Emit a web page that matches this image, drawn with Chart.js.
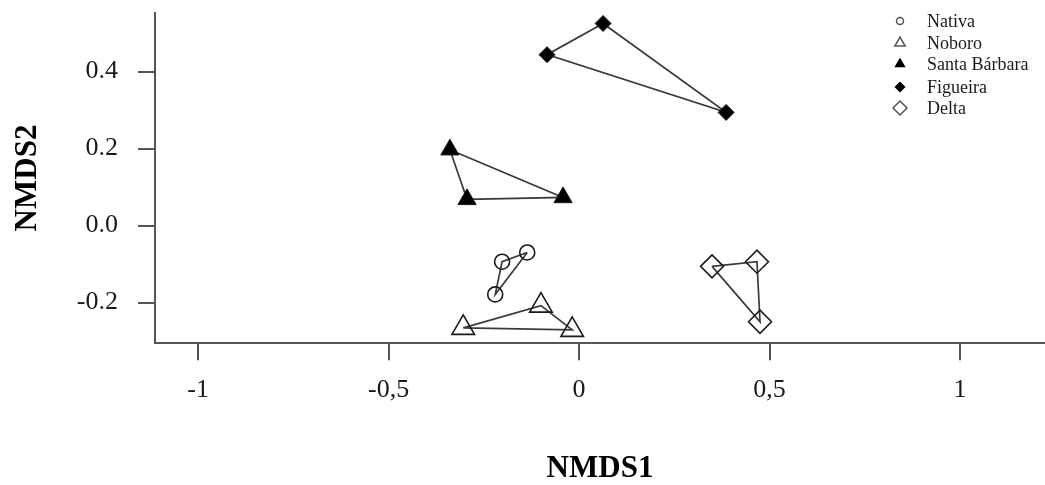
<!DOCTYPE html>
<html>
<head>
<meta charset="utf-8">
<script src="https://cdn.jsdelivr.net/npm/chart.js"></script>
<style>
  body { margin: 0; background: #fff; }
  #wrap { width: 1045px; height: 485px; }
</style>
</head>
<body>
<div id="wrap"><canvas id="grafico" width="1045" height="485"></canvas></div>
<script>
// NMDS scores, hull order for each site
const grupos = ['Nativa', 'Noboro', 'Santa Bárbara', 'Figueira', 'Delta'];

const nativaX = [-0.136, -0.220, -0.202];
const nativaY = [-0.070, -0.179, -0.094];

const noboroX = [-0.304, -0.100, -0.018];
const noboroY = [-0.266, -0.208, -0.271];

const santaX = [-0.339, -0.042, -0.294];
const santaY = [0.197, 0.073, 0.068];

const figueiraX = [0.063, 0.386, -0.084];
const figueiraY = [0.525, 0.294, 0.444];

const deltaX = [0.349, 0.467, 0.475];
const deltaY = [-0.106, -0.094, -0.250];

const ticksX = [-1, -0.5, 0, 0.5, 1];
const etichetteX = ['-1', '-0,5', '0', '0,5', '1'];
const ticksY = [-0.2, 0, 0.2, 0.4];
const etichetteY = ['-0.2', '0.0', '0.2', '0.4'];

// marker look per group: style, radius, filled, legend radius
const stili = [
  { style: 'circle',   r: 7.5, pieno: false, rl: 3.5 },
  { style: 'triangle', r: 13,  pieno: false, rl: 6 },
  { style: 'triangle', r: 10.5, pieno: true, rl: 5 },
  { style: 'rectRot',  r: 8,   pieno: true,  rl: 4.5 },
  { style: 'rectRot',  r: 11.5, pieno: false, rl: 7 }
];

function punti(xs, ys) {
  var v = [];
  for (var i = 0; i < xs.length; i++) v.push({ x: xs[i], y: ys[i] });
  v.push({ x: xs[0], y: ys[0] }); // close the hull
  return v;
}

const serie = [
  punti(nativaX, nativaY),
  punti(noboroX, noboroY),
  punti(santaX, santaY),
  punti(figueiraX, figueiraY),
  punti(deltaX, deltaY)
];

Chart.defaults.font.family = "'Liberation Serif', 'Times New Roman', serif";
Chart.defaults.color = '#1a1a1a';

var datasets = [];
for (var i = 0; i < grupos.length; i++) {
  (function (s, n) {
    datasets.push({
      label: grupos[i],
      data: serie[i],
      showLine: true,
      borderColor: '#3a3a3a',
      borderWidth: 1.7,
      pointStyle: s.style,
      pointRadius: function (ctx) { return ctx.dataIndex === n - 1 ? 0 : s.r; },
      pointHoverRadius: s.r,
      pointBorderColor: '#1a1a1a',
      pointBorderWidth: s.pieno ? 1 : 1.6,
      pointBackgroundColor: s.pieno ? '#000' : 'rgba(0,0,0,0)',
      fill: false
    });
  })(stili[i], serie[i].length);
}

// small legend in the top right corner
const legendaR = {
  id: 'legendaR',
  afterDraw: function (chart) {
    var ctx = chart.ctx;
    var righe = [21, 43, 64, 87, 108];
    ctx.save();
    for (var i = 0; i < grupos.length; i++) {
      var s = stili[i];
      ctx.fillStyle = s.pieno ? '#000' : 'rgba(0,0,0,0)';
      ctx.strokeStyle = s.pieno ? '#000' : '#555';
      ctx.lineWidth = 1.5;
      Chart.helpers.drawPoint(ctx, { pointStyle: s.style, radius: s.rl, rotation: 0, borderWidth: 1.5 }, 900, righe[i]);
      ctx.fillStyle = '#1a1a1a';
      ctx.font = "18px 'Liberation Serif'";
      ctx.textBaseline = 'middle';
      ctx.textAlign = 'left';
      ctx.fillText(grupos[i], 927, righe[i] + 1);
    }
    ctx.restore();
  }
};

new Chart(document.getElementById('grafico'), {
  type: 'scatter',
  data: { datasets: datasets },
  options: {
    responsive: false,
    animation: false,
    layout: { autoPadding: false, padding: { top: 12.7, right: 0, left: 0, bottom: 0 } },
    plugins: { legend: { display: false }, tooltip: { enabled: false } },
    scales: {
      x: {
        type: 'linear',
        min: -1.113,
        max: 1.223,
        afterBuildTicks: function (scale) {
          scale.ticks = ticksX.map(function (v) { return { value: v }; });
        },
        afterFit: function (scale) {
          scale.height = 141.7;
          scale.paddingLeft = 0;
          scale.paddingRight = 0;
        },
        ticks: {
          autoSkip: false,
          maxRotation: 0,
          padding: 14,
          font: { size: 26 },
          callback: function (v, idx) { return etichetteX[idx]; }
        },
        grid: { drawOnChartArea: false, drawTicks: true, tickLength: 17, color: '#555', lineWidth: 2 },
        border: { display: true, color: '#555', width: 2 },
        title: {
          display: true,
          text: 'NMDS1',
          font: { size: 31, weight: 'bold', lineHeight: 1.05 },
          color: '#000',
          padding: { top: 0, bottom: 0 }
        }
      },
      y: {
        type: 'linear',
        min: -0.306,
        max: 0.553,
        afterBuildTicks: function (scale) {
          scale.ticks = ticksY.map(function (v) { return { value: v }; });
        },
        afterFit: function (scale) {
          scale.width = 155;
          scale.paddingTop = 0;
          scale.paddingBottom = 0;
        },
        ticks: {
          autoSkip: false,
          padding: 20,
          font: { size: 26 },
          callback: function (v, idx) { return etichetteY[idx]; }
        },
        grid: { drawOnChartArea: false, drawTicks: true, tickLength: 17, color: '#555', lineWidth: 2 },
        border: { display: true, color: '#555', width: 2 },
        title: {
          display: true,
          text: 'NMDS2',
          font: { size: 31, weight: 'bold', lineHeight: 1.1 },
          color: '#000',
          padding: { top: 11, bottom: 0 }
        }
      }
    }
  },
  plugins: [legendaR]
});
</script>
</body>
</html>
